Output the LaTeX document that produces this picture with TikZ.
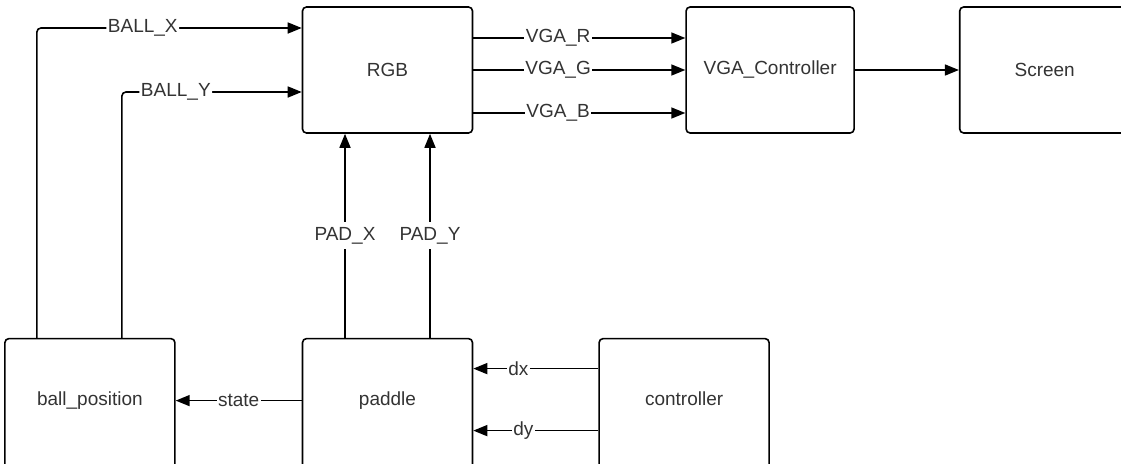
\documentclass[tikz,border=0pt]{standalone}
\usepackage{fontspec}
\setmainfont{Liberation Sans}
\usetikzlibrary{arrows.meta, positioning}

\begin{document}
\begin{tikzpicture}[
  x=1pt, y=-1pt,
  box/.style={draw, line width=1.6pt, rounded corners=4pt, minimum width=170pt, minimum height=126pt, align=center, font=\fontsize{19}{23}\selectfont, text=black!80},
  tall/.style={minimum height=150pt, text depth=30pt},
  arrow/.style={-{Triangle[length=14pt, width=11pt]}, line width=1.6pt},
  lbl/.style={fill=white, inner sep=1.5pt, font=\fontsize{19}{23}\selectfont, text=black!80},
  node distance=204pt and 212pt
]
  \useasboundingbox (0,0) rectangle (1121,463);
  \clip (0,0) rectangle (1121,463);

  \node[box] (rgb) at (387.5,70) {RGB};
  \node[box, minimum width=168pt, right=212pt of rgb] (vga) {VGA\_Controller};
  \node[box, right=104pt of vga] (screen) {Screen};
  \node[box, tall, below=204pt of rgb] (paddle) {paddle};
  \node[box, tall, left=126pt of paddle] (ball) {ball\_position};
  \node[box, tall, right=125pt of paddle] (ctrl) {controller};

  \draw[arrow, rounded corners=4pt] ([xshift=-53pt]ball.north) |- node[lbl, pos=0.7] {BALL\_X} ([yshift=42pt]rgb.west);
  \draw[arrow, rounded corners=4pt] ([xshift=32pt]ball.north) |- node[lbl, pos=0.65] {BALL\_Y} ([yshift=-22pt]rgb.west);
  \draw[arrow] ([yshift=32pt]rgb.east) -- node[lbl, pos=0.4] {VGA\_R} ([yshift=32pt]vga.west);
  \draw[arrow] (rgb.east) -- node[lbl, pos=0.4] {VGA\_G} (vga.west);
  \draw[arrow] ([yshift=-43pt]rgb.east) -- node[lbl, pos=0.4] {VGA\_B} ([yshift=-43pt]vga.west);
  \draw[arrow] (vga) -- (screen);
  \draw[arrow] ([xshift=-42.5pt]paddle.north) -- node[lbl, inner sep=5pt] {PAD\_X} ([xshift=-42.5pt]rgb.south);
  \draw[arrow] ([xshift=42.5pt]paddle.north) -- node[lbl, inner sep=5pt] {PAD\_Y} ([xshift=42.5pt]rgb.south);
  \draw[arrow] ([yshift=13pt]paddle.west) -- node[lbl] {state} ([yshift=13pt]ball.east);
  \draw[arrow] ([yshift=45pt]ctrl.west) -- node[lbl, pos=0.64] {dx} ([yshift=45pt]paddle.east);
  \draw[arrow] ([yshift=-17pt]ctrl.west) -- node[lbl, pos=0.6] {dy} ([yshift=-17pt]paddle.east);
\end{tikzpicture}
\end{document}
